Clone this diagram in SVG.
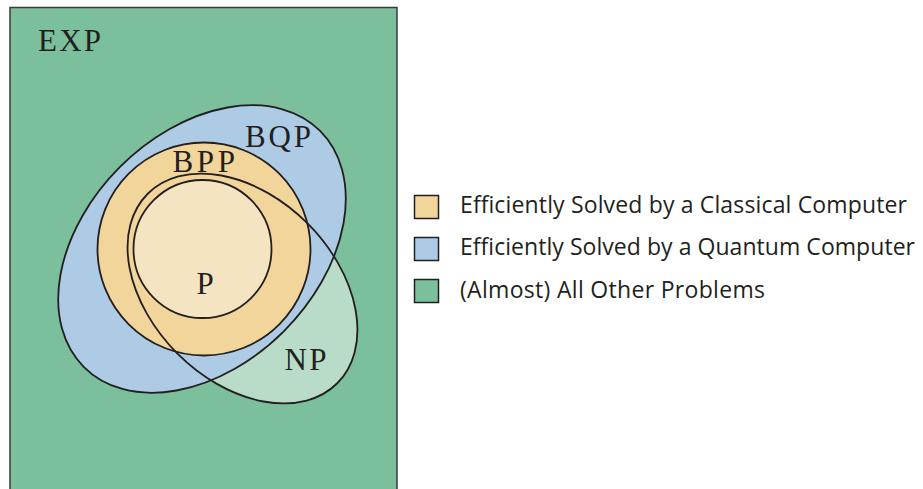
<svg xmlns="http://www.w3.org/2000/svg" width="923" height="489" viewBox="0 0 923 489">
<style>
.ln{stroke:#231f20;stroke-width:1.8;}
.lbl{font-family:"Liberation Serif","Times New Roman",serif;font-size:31px;fill:#231f20;}
.leg{font-family:"Open Sans","Noto Sans",sans-serif;font-size:23px;fill:#231f20;}
.sw{stroke:#231f20;stroke-width:1.5;}
</style>
<rect width="923" height="489" fill="#ffffff"/>
<g id="exp">
<rect x="10" y="7.5" width="387" height="490" fill="#7bbf9c" stroke="#3a3a3a" stroke-width="1.5"/>
<text class="lbl" x="38" y="51" textLength="63" lengthAdjust="spacing">EXP</text>
</g>
<g id="np-fill"><ellipse cx="242.5" cy="288.5" rx="134" ry="92" transform="rotate(45 242.5 288.5)" fill="#b8dcc7"/></g>
<g id="bqp">
<ellipse cx="202" cy="249" rx="167" ry="116" transform="rotate(-45 202 249)" fill="#aecbe5" class="ln"/>
<text class="lbl" x="245" y="146.5" textLength="66" lengthAdjust="spacing">BQP</text>
</g>
<g id="bpp">
<circle cx="204" cy="249" r="106.5" fill="#f2d59b" class="ln"/>
<text class="lbl" x="172.5" y="171.5" textLength="62.5" lengthAdjust="spacing">BPP</text>
</g>
<g id="p">
<circle cx="202.5" cy="249" r="69" fill="#f4e4c1" class="ln"/>
<text class="lbl" x="196.5" y="294">P</text>
</g>
<g id="np">
<ellipse cx="242.5" cy="288.5" rx="134" ry="92" transform="rotate(45 242.5 288.5)" fill="none" class="ln"/>
<text class="lbl" x="284.5" y="370" textLength="42" lengthAdjust="spacing">NP</text>
</g>
<g id="legend">
<g id="leg-classical">
<rect x="414.5" y="195.5" width="24" height="23" fill="#f2d59b" class="sw"/>
<text class="leg" x="460" y="212.5" textLength="447" lengthAdjust="spacing">Efficiently Solved by a Classical Computer</text>
</g>
<g id="leg-quantum">
<rect x="414.5" y="237.5" width="24" height="23" fill="#aecbe5" class="sw"/>
<text class="leg" x="460" y="255" textLength="455" lengthAdjust="spacing">Efficiently Solved by a Quantum Computer</text>
</g>
<g id="leg-other">
<rect x="414.5" y="279.5" width="24" height="23" fill="#7bbf9c" class="sw"/>
<text class="leg" x="460" y="297.5" textLength="305" lengthAdjust="spacing">(Almost) All Other Problems</text>
</g>
</g>
<g id="connectors"/>
</svg>
